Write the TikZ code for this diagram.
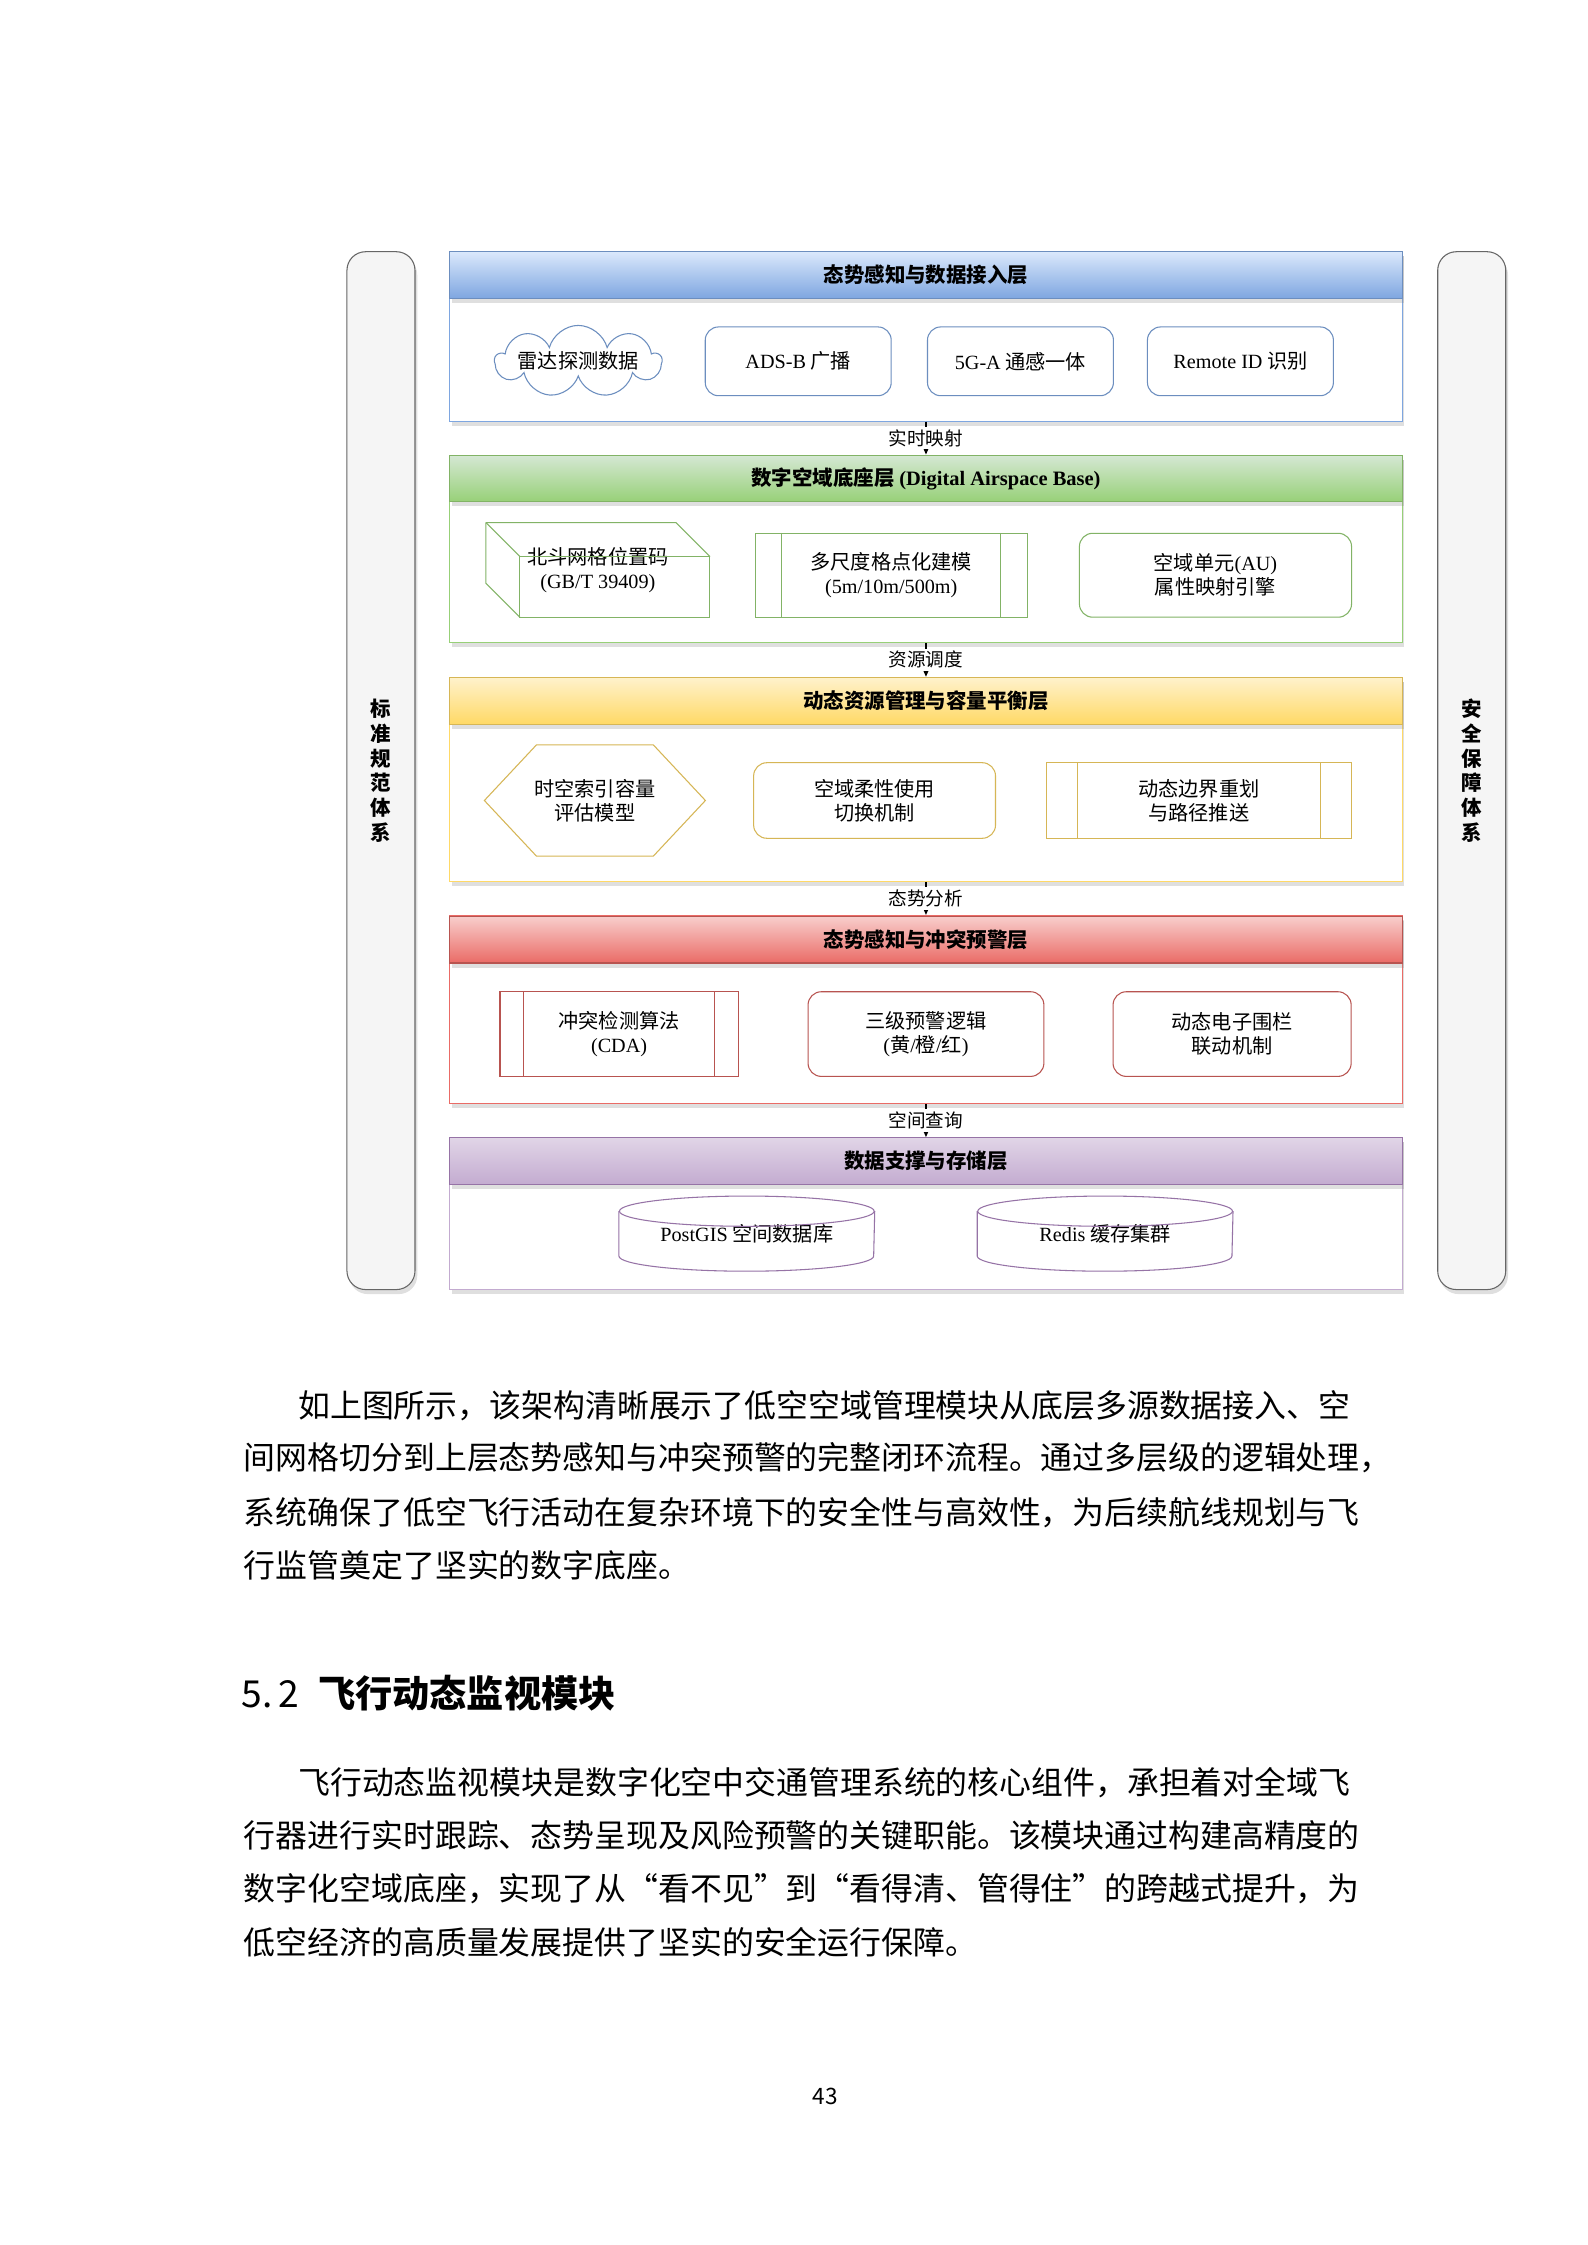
\documentclass[tikz,border=0pt]{standalone}
\usepackage{fontspec}
\setmainfont{Noto Sans CJK SC}
\newfontfamily\latin{Liberation Serif}
\usepackage{tikz}
\usetikzlibrary{arrows.meta,calc,positioning,shapes.symbols,shadows}
\usepackage{xcolor}
\definecolor{blueA}{HTML}{DAE8FC}
\definecolor{blueB}{HTML}{7EA6E0}
\definecolor{blueline}{HTML}{6C8EBF}
\definecolor{greenA}{HTML}{D5E8D4}
\definecolor{greenB}{HTML}{97D077}
\definecolor{greenline}{HTML}{82B366}
\definecolor{yellowA}{HTML}{FFF2CC}
\definecolor{yellowB}{HTML}{FFD966}
\definecolor{yellowline}{HTML}{D6B656}
\definecolor{redA}{HTML}{F8CECC}
\definecolor{redB}{HTML}{EA6B66}
\definecolor{redline}{HTML}{B85450}
\definecolor{purpleA}{HTML}{E1D5E7}
\definecolor{purpleB}{HTML}{C3ABD0}
\definecolor{purpleline}{HTML}{9673A6}
\definecolor{sidefill}{HTML}{F5F5F5}
\definecolor{sideline}{HTML}{666666}
\XeTeXlinebreaklocale "zh"
\XeTeXlinebreakskip=0pt plus 3pt minus 1pt

\begin{document}
\begin{tikzpicture}[>=Stealth,
  softshadow/.style={drop shadow={shadow xshift=0.03cm,shadow yshift=-0.06cm,opacity=0.25}},
  layerbox/.style={draw,fill=white,minimum width=12.6cm,inner sep=0pt,softshadow},
  hdr/.style={draw,minimum width=12.6cm,minimum height=0.62cm,inner sep=0pt,
    font=\bfseries\fontsize{7.7}{9}\selectfont,softshadow},
  item/.style={draw,fill=white,align=center,inner sep=1pt,font=\fontsize{7.6}{9}\selectfont},
  rbox/.style={item,rounded corners=5pt},
  sidebar/.style={draw=sideline,fill=sidefill,rounded corners=7pt,minimum width=0.9cm,
    minimum height=13.73cm,softshadow},
  sidetxt/.style={align=center,font=\bfseries\fontsize{7.7}{9.3}\selectfont},
  flow/.style={-{Stealth[length=4pt,width=3.5pt]},line width=0.6pt},
  flowlbl/.style={fill=white,inner sep=1pt,font=\fontsize{7}{8}\selectfont},
  bodyline/.style={anchor=west,inner sep=0pt,font=\fontsize{12}{14}\selectfont}]
  \fill[white] (0,0) rectangle (21,-29.7);
  \useasboundingbox (0,0) rectangle (21,-29.7);

  % side columns
  \node[sidebar] (std) at (5.04,-10.195) {};
  \node[sidetxt] at (std) {标\\准\\规\\范\\体\\系};
  \node[sidebar] (sec) at (19.47,-10.195) {};
  \node[sidetxt] at (sec) {安\\全\\保\\障\\体\\系};

  % layers
  \node[layerbox,draw=blueB,minimum height=2.24cm] (L1) at (12.25,-4.45) {};
  \node[hdr,draw=blueline,top color=blueA,bottom color=blueB] (h1) at (12.25,-3.64) {态势感知与数据接入层};
  \node[layerbox,draw=greenB,minimum height=2.48cm] (L2) at (12.25,-7.26) {};
  \node[hdr,draw=greenline,top color=greenA,bottom color=greenB] (h2) at (12.25,-6.33) {数字空域底座层 {\latin (Digital Airspace Base)}};
  \node[layerbox,draw=yellowB,minimum height=2.70cm] (L3) at (12.25,-10.31) {};
  \node[hdr,draw=yellowline,top color=yellowA,bottom color=yellowB] (h3) at (12.25,-9.27) {动态资源管理与容量平衡层};
  \node[layerbox,draw=redB,minimum height=2.49cm] (L4) at (12.25,-13.355) {};
  \node[hdr,draw=redline,top color=redA,bottom color=redB] (h4) at (12.25,-12.43) {态势感知与冲突预警层};
  \node[layerbox,draw=purpleB,minimum height=2.01cm] (L5) at (12.25,-16.055) {};
  \node[hdr,draw=purpleline,top color=purpleA,bottom color=purpleB] (h5) at (12.25,-15.36) {数据支撑与存储层};

  \draw[flow] (L1.south) -- node[flowlbl] {实时映射} (L2.north);
  \draw[flow] (L2.south) -- node[flowlbl] {资源调度} (L3.north);
  \draw[flow] (L3.south) -- node[flowlbl] {态势分析} (L4.north);
  \draw[flow] (L4.south) -- node[flowlbl] {空间查询} (L5.north);

  % layer 1
  \node[cloud,cloud puffs=9,cloud ignores aspect,draw=blueline,inner sep=0pt,minimum width=2.2cm,minimum height=0.95cm] (radar) at (7.65,-4.78) {};
  \node[font=\fontsize{7.6}{9}\selectfont] (radartxt) at (radar) {雷达探测数据};
  \node[rbox,draw=blueline,minimum width=2.46cm,minimum height=0.91cm] (adsb) at (10.56,-4.78) {{\latin ADS-B} 广播};
  \node[rbox,draw=blueline,minimum width=2.46cm,minimum height=0.91cm] (fiveg) at (13.50,-4.78) {{\latin 5G-A} 通感一体};
  \node[rbox,draw=blueline,minimum width=2.46cm,minimum height=0.91cm] (rid) at (16.41,-4.78) {{\latin Remote ID} 识别};

  % layer 2
  \node[align=center,inner sep=0pt,minimum width=2.95cm,minimum height=1.24cm,font=\fontsize{7.6}{9}\selectfont] (bds) at (7.91,-7.54) {北斗网格位置码\\{\latin (GB/T 39409)}};
  \draw[greenline] ([xshift=0.45cm]bds.south west) rectangle ([yshift=-0.45cm]bds.north east);
  \draw[greenline] (bds.north west) -- ([xshift=-0.45cm]bds.north east) -- ([yshift=-0.45cm]bds.north east);
  \draw[greenline] (bds.north west) -- ([xshift=0.45cm,yshift=-0.45cm]bds.north west);
  \draw[greenline] (bds.north west) -- ([yshift=0.45cm]bds.south west) -- ([xshift=0.45cm]bds.south west);
  \node[item,draw=greenline,minimum width=3.60cm,minimum height=1.11cm] (grid) at (11.79,-7.61) {多尺度格点化建模\\{\latin (5m/10m/500m)}};
  \draw[greenline] ([xshift=0.36cm]grid.north west) -- ([xshift=0.36cm]grid.south west);
  \draw[greenline] ([xshift=-0.36cm]grid.north east) -- ([xshift=-0.36cm]grid.south east);
  \node[rbox,draw=greenline,minimum width=3.60cm,minimum height=1.11cm] (au) at (16.08,-7.61) {空域单元{\latin (AU)}\\属性映射引擎};

  % layer 3
  \node[align=center,inner sep=0pt,minimum width=2.91cm,minimum height=1.46cm,font=\fontsize{7.6}{9}\selectfont] (cap) at (7.87,-10.59) {时空索引容量\\评估模型};
  \draw[yellowline] (cap.west) -- ([xshift=0.69cm]cap.north west) -- ([xshift=-0.69cm]cap.north east) -- (cap.east)
    -- ([xshift=-0.69cm]cap.south east) -- ([xshift=0.69cm]cap.south west) -- cycle;
  \node[rbox,draw=yellowline,minimum width=3.2cm,minimum height=1.0cm] (flex) at (11.57,-10.59) {空域柔性使用\\切换机制};
  \node[item,draw=yellowline,minimum width=4.04cm,minimum height=1.0cm] (bnd) at (15.86,-10.59) {动态边界重划\\与路径推送};
  \draw[yellowline] ([xshift=0.42cm]bnd.north west) -- ([xshift=0.42cm]bnd.south west);
  \draw[yellowline] ([xshift=-0.42cm]bnd.north east) -- ([xshift=-0.42cm]bnd.south east);

  % layer 4
  \node[item,draw=redline,minimum width=3.15cm,minimum height=1.12cm] (cda) at (8.19,-13.68) {冲突检测算法\\{\latin (CDA)}};
  \draw[redline] ([xshift=0.32cm]cda.north west) -- ([xshift=0.32cm]cda.south west);
  \draw[redline] ([xshift=-0.32cm]cda.north east) -- ([xshift=-0.32cm]cda.south east);
  \node[rbox,draw=redline,minimum width=3.12cm,minimum height=1.12cm] (warn) at (12.25,-13.68) {三级预警逻辑\\{\latin (}黄{\latin /}橙{\latin /}红{\latin )}};
  \node[rbox,draw=redline,minimum width=3.15cm,minimum height=1.12cm] (fence) at (16.30,-13.68) {动态电子围栏\\联动机制};

  % layer 5
  \node[inner sep=0pt,minimum width=3.37cm,minimum height=0.98cm,font=\fontsize{7.6}{9}\selectfont] (pg) at (9.88,-16.32) {{\latin PostGIS} 空间数据库};
  \draw[purpleline] ($(pg.north west)+(0,-0.2)$) -- ($(pg.south west)+(0,0.2)$)
    arc[start angle=180,end angle=360,x radius=1.685cm,y radius=0.2cm] -- ($(pg.north east)+(0,-0.2)$);
  \draw[purpleline] ($(pg.north)+(0,-0.2)$) ellipse[x radius=1.685cm,y radius=0.2cm];
  \node[inner sep=0pt,minimum width=3.37cm,minimum height=0.98cm,font=\fontsize{7.6}{9}\selectfont] (redis) at (14.62,-16.32) {{\latin Redis} 缓存集群};
  \draw[purpleline] ($(redis.north west)+(0,-0.2)$) -- ($(redis.south west)+(0,0.2)$)
    arc[start angle=180,end angle=360,x radius=1.685cm,y radius=0.2cm] -- ($(redis.north east)+(0,-0.2)$);
  \draw[purpleline] ($(redis.north)+(0,-0.2)$) ellipse[x radius=1.685cm,y radius=0.2cm];

  % page text
  \node[bodyline] (pa1) at (3.94,-18.59) {\hbox to 14.08cm{如上图所示，该架构清晰展示了低空空域管理模块从底层多源数据接入、空}};
  \node[bodyline] (pa2) at (3.22,-19.29) {\hbox to 14.80cm{间网格切分到上层态势感知与冲突预警的完整闭环流程。通过多层级的逻辑处理，}};
  \node[bodyline] (pa3) at (3.22,-20.01) {\hbox to 14.80cm{系统确保了低空飞行活动在复杂环境下的安全性与高效性，为后续航线规划与飞}};
  \node[bodyline] (pa4) at (3.22,-20.71) {行监管奠定了坚实的数字底座。};
  \node[anchor=west,inner sep=0pt,font=\bfseries\fontsize{14}{16}\selectfont] (title) at (3.19,-22.40) {{\mdseries 5.\,2}\hspace{0.5em}飞行动态监视模块};
  \node[bodyline] (pb1) at (3.94,-23.58) {\hbox to 14.08cm{飞行动态监视模块是数字化空中交通管理系统的核心组件，承担着对全域飞}};
  \node[bodyline] (pb2) at (3.22,-24.28) {\hbox to 14.80cm{行器进行实时跟踪、态势呈现及风险预警的关键职能。该模块通过构建高精度的}};
  \node[bodyline] (pb3) at (3.22,-24.98) {\hbox to 14.80cm{数字化空域底座，实现了从“看不见”到“看得清、管得住”的跨越式提升，为}};
  \node[bodyline] (pb4) at (3.22,-25.70) {低空经济的高质量发展提供了坚实的安全运行保障。};
  \node[font=\fontsize{8.5}{10}\selectfont] (pnum) at (10.92,-27.74) {43};
\end{tikzpicture}
\end{document}
